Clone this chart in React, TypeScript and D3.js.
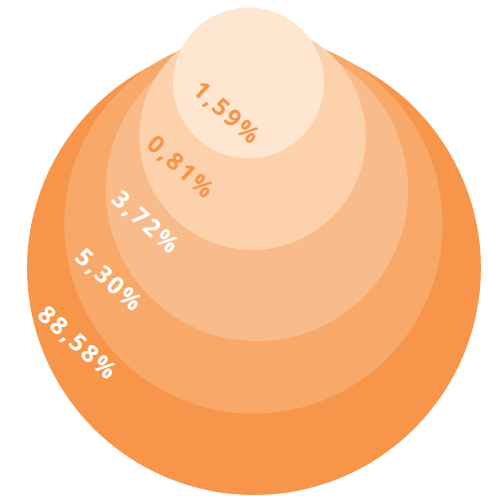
import React from "react";
import * as d3 from "d3";

// Data
const labels: string[] = ["88,58%", "5,30%", "3,72%", "0,81%", "1,59%"];
const values: number[] = [88.58, 5.3, 3.72, 0.81, 1.59];
const fills: string[] = ["#F7964A", "#F8A96A", "#FABB8A", "#FCD1AB", "#FEE6D0"];
const labelColors: string[] = ["#FFFFFF", "#FFFFFF", "#FFFFFF", "#F7964A", "#F7964A"];

// Layout (rank -> geometry)
const W = 488;
const H = 496;
const centersX = [254, 253.5, 257, 252.5, 248.5];
const centersY = [268, 224.5, 190, 136.5, 83];
const labelAngles = [157, 159, 164, 157, 125];
const labelInsets = [37, 36, 37, 37, 40];

export default function App() {
  const rank = d3.range(labels.length);
  const rScale = d3.scaleLinear().domain([0, labels.length - 1]).range([227, 75.5]);

  return (
    <svg
      width={W}
      height={H}
      viewBox={`0 0 ${W} ${H}`}
      style={{ position: "absolute", left: 0, top: 0, display: "block" }}
    >
      <rect width={W} height={H} fill="#ffffff" />
      {rank.map((i) => (
        <circle key={"c" + i} cx={centersX[i]} cy={centersY[i]} r={rScale(i)} fill={fills[i]} />
      ))}
      {rank.map((i) => {
        const a = (labelAngles[i] * Math.PI) / 180;
        const d = rScale(i) - labelInsets[i];
        const x = centersX[i] + d * Math.cos(a);
        const y = centersY[i] + d * Math.sin(a);
        return (
          <text
            key={"t" + i}
            x={0}
            y={0}
            transform={`translate(${x},${y}) rotate(42)`}
            textAnchor="middle"
            dominantBaseline="central"
            fill={labelColors[i]}
            fontFamily="'Open Sans', sans-serif"
            fontWeight={700}
            fontSize={24}
            letterSpacing={2.5}
            data-value={values[i]}
          >
            {labels[i]}
          </text>
        );
      })}
    </svg>
  );
}
